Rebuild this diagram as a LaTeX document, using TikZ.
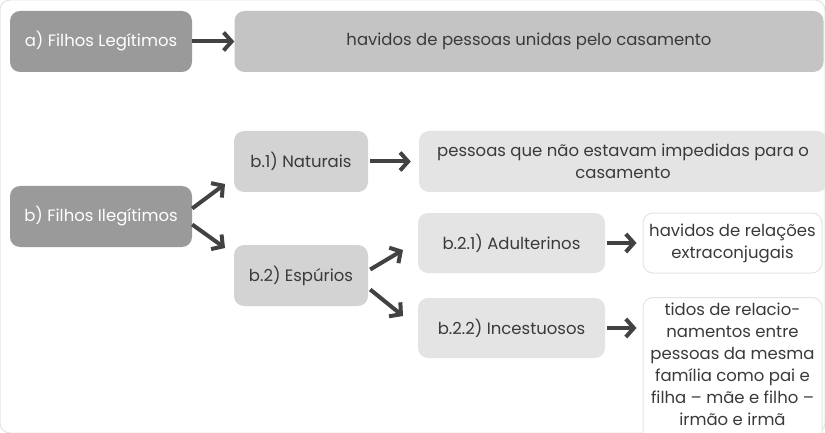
\documentclass[tikz,border=0pt]{standalone}
\usepackage{fontspec}
\setmainfont{Poppins}
\usetikzlibrary{arrows.meta}
\definecolor{darkbox}{HTML}{9A9A9A}
\definecolor{midbox}{HTML}{C4C4C4}
\definecolor{lightbox}{HTML}{D3D3D3}
\definecolor{paleb}{HTML}{E4E4E4}
\definecolor{txt}{HTML}{3A3A3A}
\definecolor{arr}{HTML}{424242}
\begin{document}
\begin{tikzpicture}[x=1pt,y=-1pt,
  box/.style={rounded corners=10pt,inner sep=0pt,align=center,font=\fontsize{16.5}{22}\selectfont,text=txt},
  dark/.style={box,fill=darkbox,text=white},
  mid/.style={box,fill=midbox},
  light/.style={box,fill=lightbox},
  pale/.style={box,fill=paleb},
  white/.style={box,fill=white,draw=paleb,line width=1pt},
  con/.style={draw=arr,line width=4pt,-{Straight Barb[length=8pt,width=18pt,line width=4pt]}}]
\useasboundingbox (0,0) rectangle (825,433);
\fill[white] (0,0) rectangle (825,433);
\node[dark,minimum width=182pt,minimum height=61pt] (a) at (101,41.5) {a) Filhos Legítimos};
\node[mid,minimum width=589pt,minimum height=61pt] (ha) at (529,41.5) {havidos de pessoas unidas pelo casamento};
\node[dark,minimum width=182pt,minimum height=61pt] (b) at (101,216.5) {b) Filhos Ilegítimos};
\node[light,minimum width=134pt,minimum height=61pt] (b1) at (301,161.5) {b.1) Naturais};
\node[pale,minimum width=408pt,minimum height=61pt] (pe) at (623,161.5) {pessoas que não estavam impedidas para o\\casamento};
\node[light,minimum width=134pt,minimum height=61pt] (b2) at (301,275.5) {b.2) Espúrios};
\node[pale,minimum width=187pt,minimum height=60pt] (b21) at (511.5,243) {b.2.1) Adulterinos};
\node[white,minimum width=179pt,minimum height=60pt] (hr) at (732.5,243) {havidos de relações\\extraconjugais};
\node[pale,minimum width=187pt,minimum height=60pt] (b22) at (511.5,328) {b.2.2) Incestuosos};
\node[white,minimum width=179pt,minimum height=145pt,anchor=north] (ti) at (732.5,297) {};
\node[box,anchor=north] (tt) at (ti.north) [yshift=-6pt] {tidos de relacio-\\namentos entre\\pessoas da mesma\\família como pai e\\filha -- mãe e filho --\\irmão e irmã};
\draw[con] (a) -- (ha);
\draw[con] ([xshift=2pt]b1.east) -- ([xshift=-8pt]pe.west);
\coordinate (bo1) at ([yshift=8pt]b.east);
\coordinate (bo2) at ([yshift=-8pt]b.east);
\coordinate (bt1) at (225,184);
\coordinate (bt2) at (225,248);
\draw[con] (bo1) -- (bt1);
\draw[con] (bo2) -- (bt2);
\coordinate (eo1) at ([xshift=2pt,yshift=6pt]b2.east);
\coordinate (eo2) at ([xshift=2pt,yshift=-14pt]b2.east);
\coordinate (et1) at (403,250);
\coordinate (et2) at (403,316);
\draw[con] (eo1) -- (et1);
\draw[con] (eo2) -- (et2);
\draw[con] ([xshift=2pt]b21.east) -- ([xshift=-6pt]hr.west);
\draw[con] ([xshift=2pt]b22.east) -- ([xshift=-6pt]b22.east -| ti.west);
\end{tikzpicture}
\end{document}
